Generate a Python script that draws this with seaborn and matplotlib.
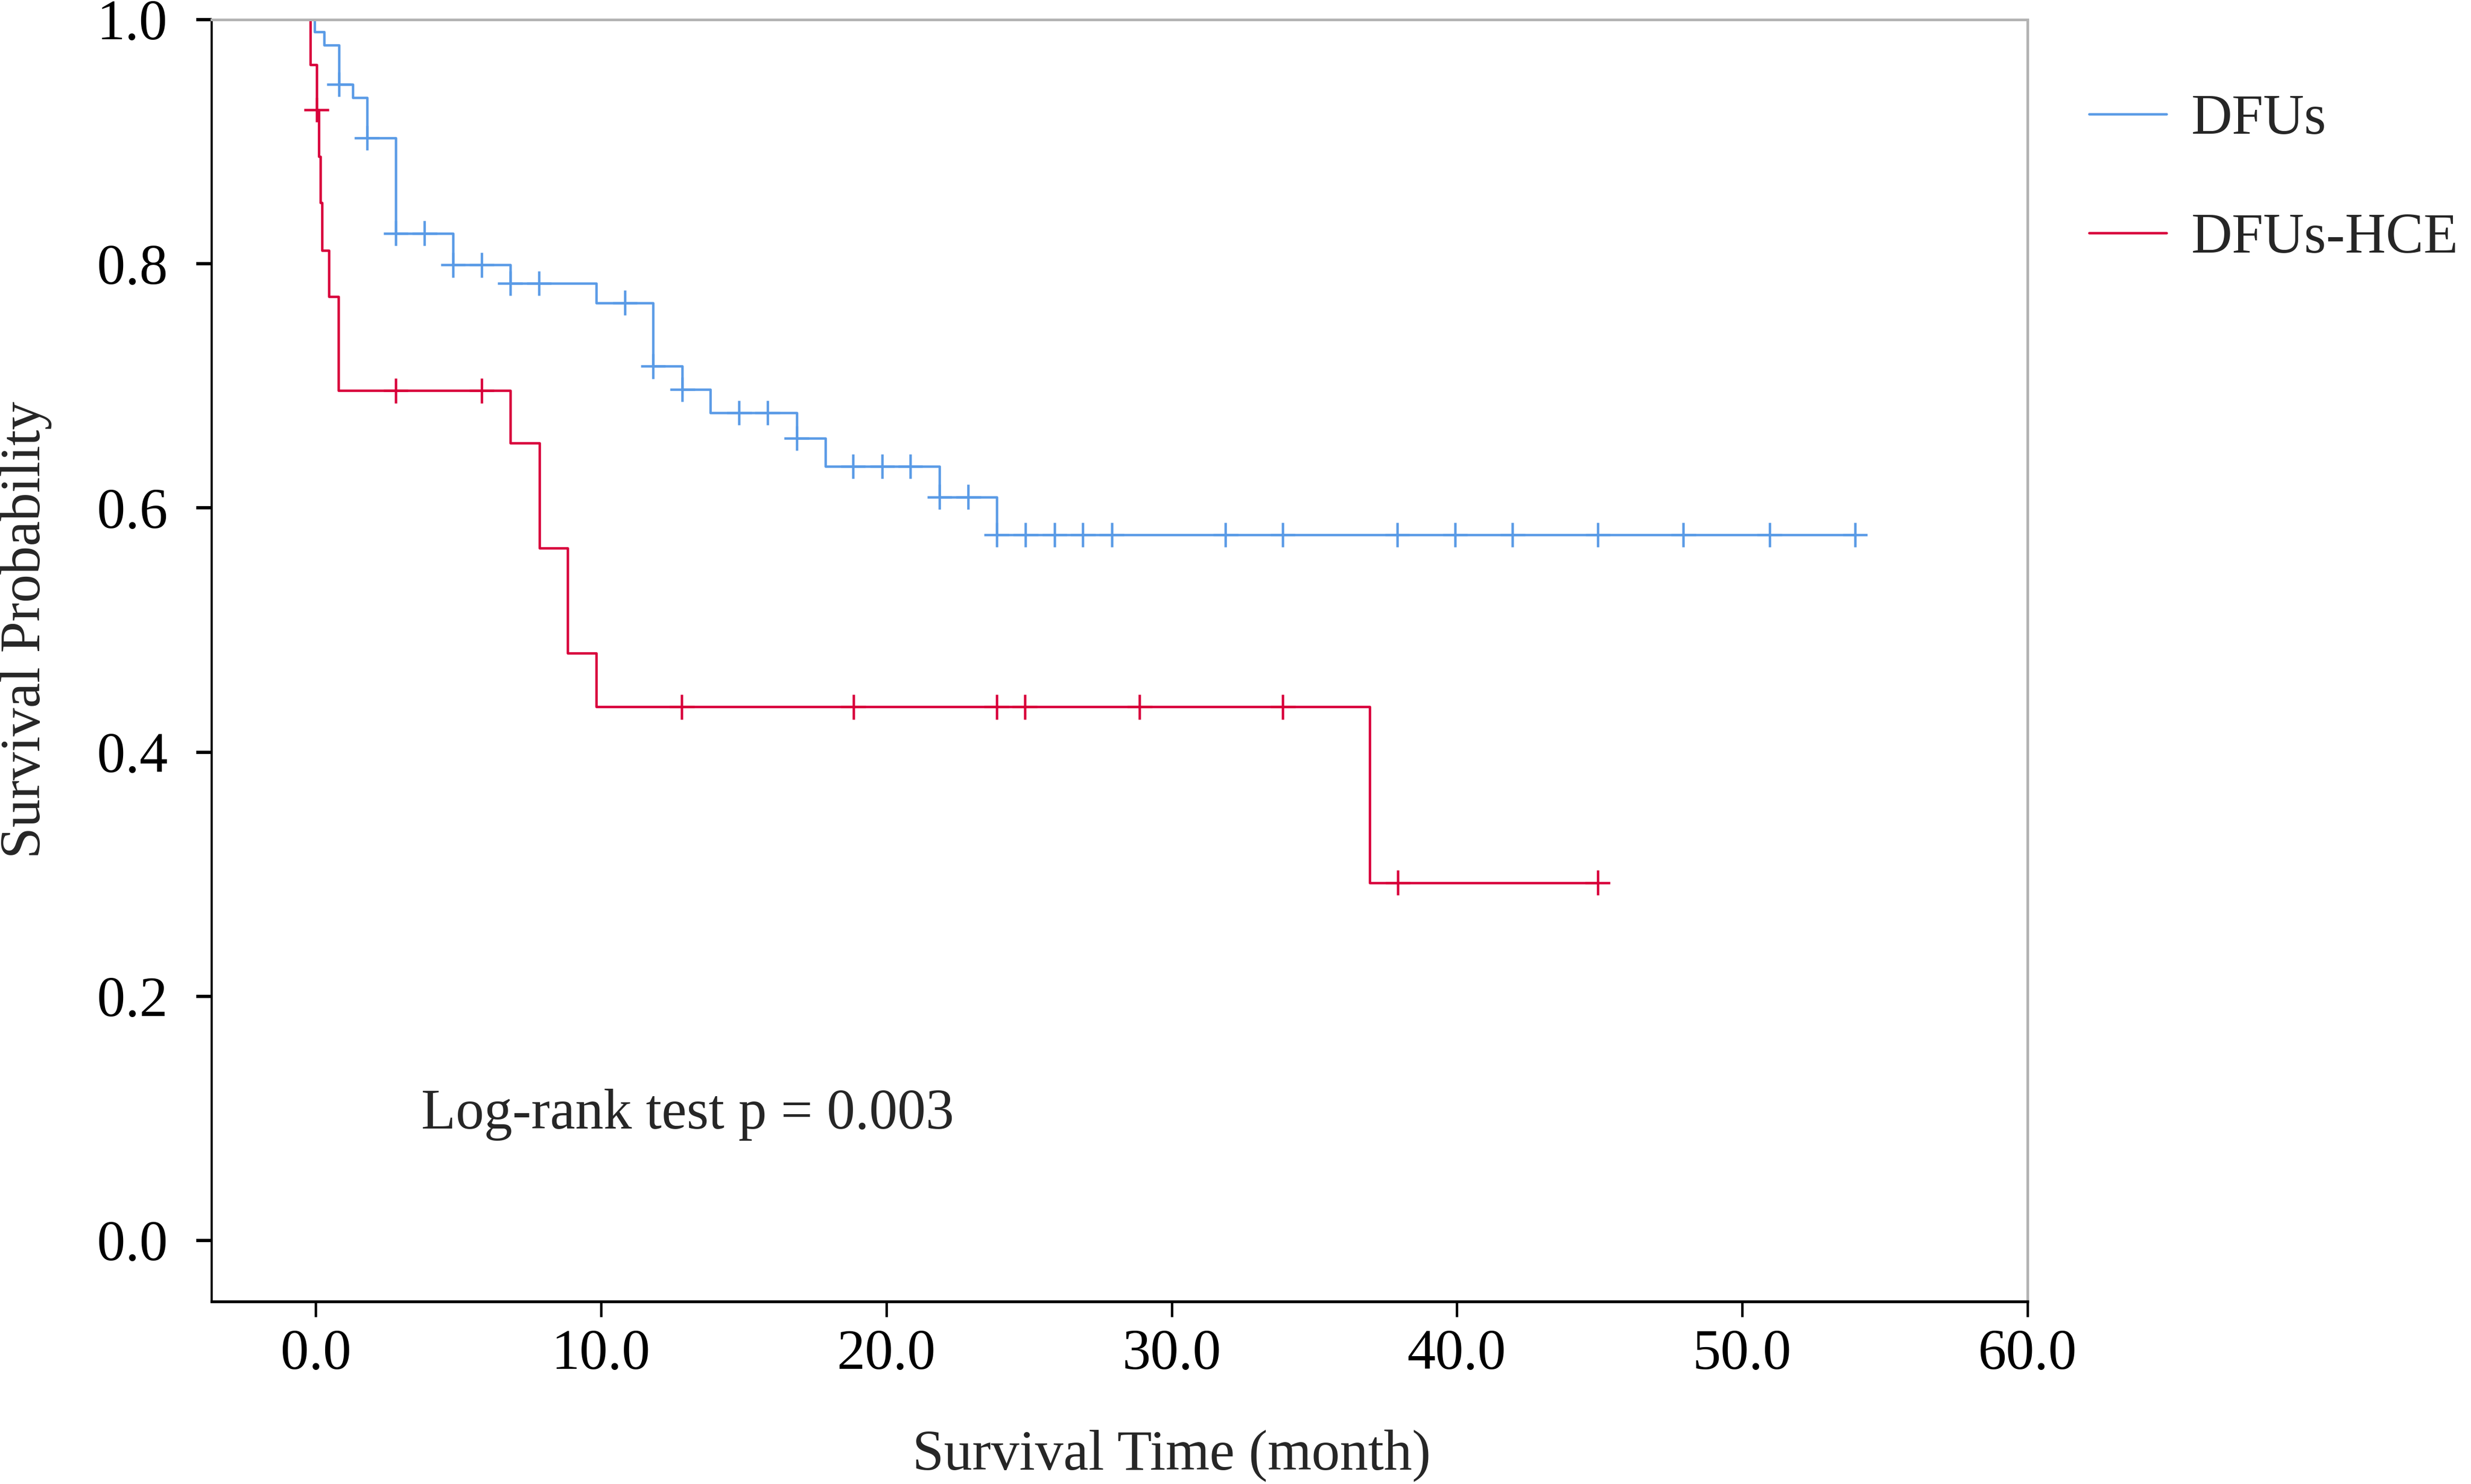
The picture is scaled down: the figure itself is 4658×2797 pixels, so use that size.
import numpy as np
import pandas as pd
import matplotlib
matplotlib.use("Agg")
import matplotlib.pyplot as plt
from matplotlib.lines import Line2D
import seaborn as sns

# ---- data ----
groups = ["DFUs", "DFUs-HCE"]
colors = ["#5a9be6", "#d8003a"]

# DFUs: event times (month) and survival after each event
dfu_event_t = [-0.05, 0.29, 0.81, 1.30, 1.79, 2.80, 4.81, 6.81, 9.82, 11.82,
               12.85, 13.83, 16.85, 17.86, 21.86, 23.86]
dfu_event_s = [0.990, 0.979, 0.947, 0.936, 0.903, 0.825, 0.799, 0.784, 0.768, 0.716,
               0.697, 0.678, 0.657, 0.634, 0.609, 0.578]
dfu_censor_t = [0.81, 1.79, 2.80, 3.81, 4.81, 5.81, 6.81, 7.82, 10.83, 11.82,
                12.85, 14.84, 15.83, 16.85, 18.83, 19.85, 20.84, 21.86, 22.87, 23.86,
                24.88, 25.90, 26.89, 27.90, 31.89, 33.89, 37.91, 39.94, 41.95, 44.94,
                47.94, 50.96, 53.96]

# DFUs-HCE
hce_event_t = [-0.20, 0.02, 0.11, 0.16, 0.22, 0.46, 0.80, 6.81, 7.84, 8.83, 9.82, 36.94]
hce_event_s = [0.963, 0.926, 0.888, 0.850, 0.811, 0.773, 0.696, 0.653, 0.567, 0.481,
               0.437, 0.293]
hce_censor_t = [0.02, 2.80, 5.81, 12.83, 18.84, 23.86, 24.85, 28.88, 33.90, 37.93, 44.93]

x_ticks = [0, 10, 20, 30, 40, 50, 60]
y_ticks = [0.0, 0.2, 0.4, 0.6, 0.8, 1.0]
p_text = "Log-rank test p = 0.003"


def step_frame(name, ev_t, ev_s, cen_t):
    # start at 1.0, go through each drop, end at the last censored case
    t = [ev_t[0]] + list(ev_t) + [max(max(cen_t), ev_t[-1])]
    s = [1.0] + list(ev_s) + [ev_s[-1]]
    return pd.DataFrame({"time": t, "surv": s, "group": name})


def censor_frame(name, ev_t, ev_s, cen_t):
    idx = np.searchsorted(np.array(ev_t), np.array(cen_t) + 1e-9, side="right") - 1
    s = [ev_s[i] if i >= 0 else 1.0 for i in idx]
    return pd.DataFrame({"time": cen_t, "surv": s, "group": name})


curves = pd.concat([
    step_frame(groups[0], dfu_event_t, dfu_event_s, dfu_censor_t),
    step_frame(groups[1], hce_event_t, hce_event_s, hce_censor_t),
], ignore_index=True)
censors = pd.concat([
    censor_frame(groups[0], dfu_event_t, dfu_event_s, dfu_censor_t),
    censor_frame(groups[1], hce_event_t, hce_event_s, hce_censor_t),
], ignore_index=True)

# ---- style ----
sns.set_style("ticks")
plt.rcParams["font.family"] = ["Liberation Serif", "DejaVu Serif"]
fs = 25.6
plt.rcParams["font.size"] = fs
palette = dict(zip(groups, colors))

fig = plt.figure(figsize=(4658 / 300, 2797 / 300), dpi=300)
ax = fig.add_axes([0.0857, 0.123, 0.7348, 0.8638])

sns.lineplot(data=curves, x="time", y="surv", hue="group", palette=palette,
             estimator=None, sort=False, drawstyle="steps-post", linewidth=1.1,
             legend=False, ax=ax)
sns.scatterplot(data=censors, x="time", y="surv", hue="group", palette=palette,
                marker="+", s=125, linewidth=1.1, legend=False, ax=ax, zorder=3)

ax.set_xlim(-3.65, 60)
ax.set_ylim(-0.05, 1.0)
ax.set_xticks(x_ticks)
ax.set_xticklabels([f"{v:.1f}" for v in x_ticks])
ax.set_yticks(y_ticks)
ax.set_yticklabels([f"{v:.1f}" for v in y_ticks])
ax.tick_params(axis="x", direction="out", length=7, width=1.1, pad=5.5,
               labelsize=fs, colors="black")
ax.tick_params(axis="y", direction="out", length=7, width=1.5, pad=13,
               labelsize=fs, colors="black")

for side in ["top", "right"]:
    ax.spines[side].set_color("#b3b3b3")
    ax.spines[side].set_linewidth(1.2)
ax.spines["left"].set_color("black")
ax.spines["left"].set_linewidth(1.0)
ax.spines["bottom"].set_color("black")
ax.spines["bottom"].set_linewidth(1.3)

ax.set_xlabel("Survival Time (month)", fontsize=fs)
ax.set_ylabel("Survival Probability", fontsize=fs)
ax.xaxis.set_label_coords(0.5287, -0.1)
ax.yaxis.set_label_coords(-0.088, 0.524)

ax.text(3.7, 0.103, p_text, fontsize=fs, ha="left", va="center")

handles = [Line2D([], [], color=c, linewidth=1.1) for c in colors]
ax.legend(handles, groups, loc="upper left", bbox_to_anchor=(1.034, 0.942),
          frameon=False, borderaxespad=0, borderpad=0, handlelength=1.37,
          handletextpad=0.44, labelspacing=1.18, fontsize=fs)

fig.savefig("out.png", dpi=300)
